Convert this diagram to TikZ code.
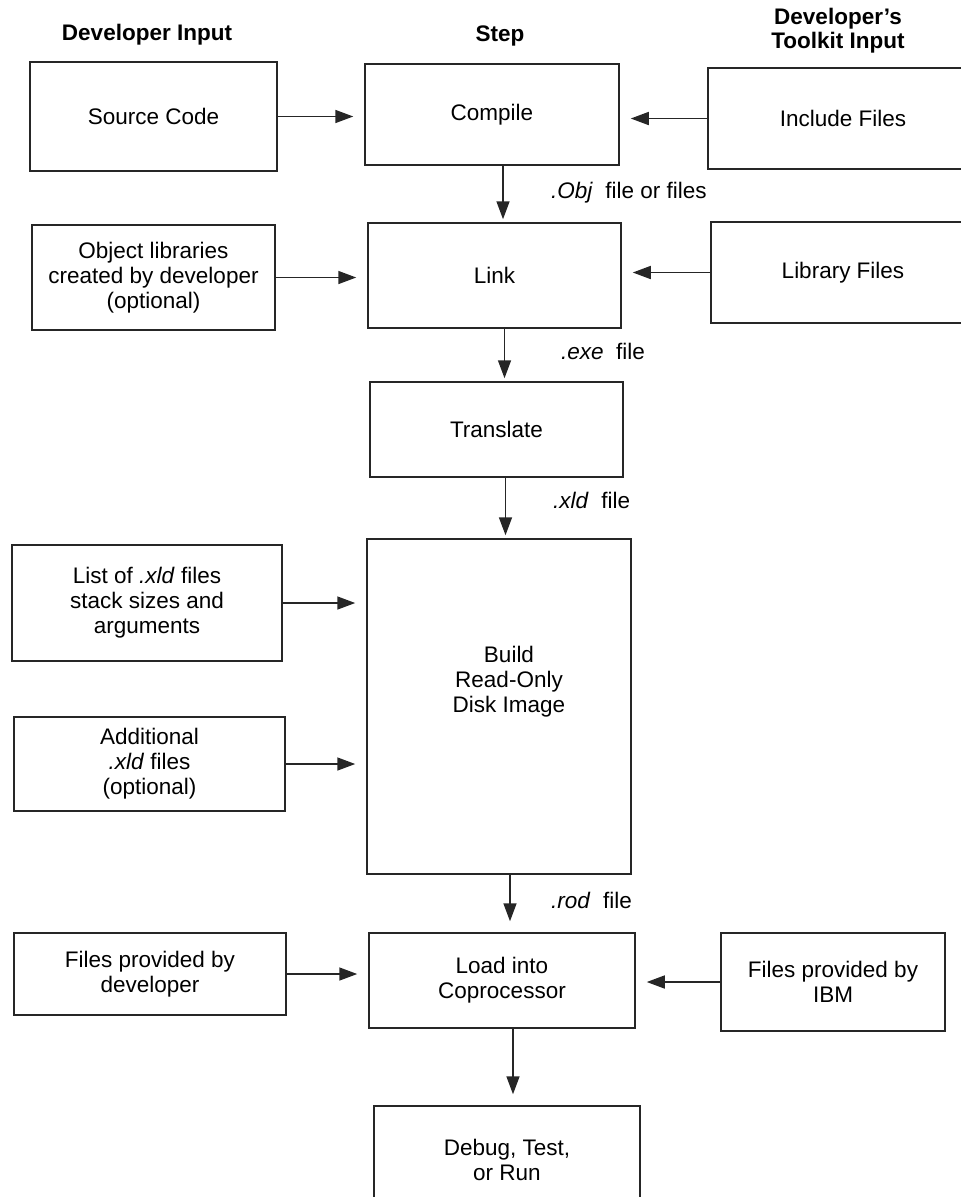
\documentclass[tikz,border=0pt]{standalone}
\usepackage{fontspec}
\setmainfont{Liberation Sans}
\usetikzlibrary{arrows.meta}

\tikzset{
	stepbox/.style={draw=black!85, line width=1.5pt, align=center},
	flow/.style={draw=black!85, line width=1.6pt, -{Triangle[length=18pt,width=13pt]}, shorten >=11pt},
	down/.style={flow, shorten >=3pt},
	head/.style={font=\fontsize{22.5}{24}\selectfont\bfseries, align=center},
	filelabel/.style={anchor=west, inner sep=0pt}
}

\begin{document}
\begin{tikzpicture}[x=1pt, y=-1pt, font=\fontsize{22.5}{25}\selectfont]
	\useasboundingbox (0,0) rectangle (961,1197);

	\node[head] (hdev) at (147,35) {Developer Input};
	\node[head] (hstep) at (500,36) {Step};
	\node[head] (htool) at (838,31) {Developer’s\\Toolkit Input};

	\node[stepbox, minimum width=247pt, minimum height=109pt] (src) at (153.5,116.5) {Source Code};
	\node[stepbox, minimum width=254pt, minimum height=101pt] (compile) at (492,114.5) {Compile};
	\node[stepbox, minimum width=270pt, minimum height=101pt] (incl) at (843,118.5) {Include Files};

	\node[stepbox, minimum width=243pt, minimum height=105pt] (objlib) at (153.5,277.5) {Object libraries\\created by developer\\(optional)};
	\node[stepbox, minimum width=253pt, minimum height=105pt] (link) at (494.5,275.5) {Link};
	\node[stepbox, minimum width=264pt, minimum height=101pt] (libf) at (843,272.5) {Library Files};

	\node[stepbox, minimum width=253pt, minimum height=95pt] (trans) at (496.5,429.5) {Translate};

	\node[stepbox, minimum width=264pt, minimum height=335pt] (build) at (499,706.5) {};
	\node[align=center] (buildtext) at (509,682) {Build\\Read-Only\\Disk Image};
	\node[stepbox, minimum width=270pt, minimum height=116pt] (xldlist) at (147,603) {List of \textit{.xld} files\\stack sizes and\\arguments};
	\node[stepbox, minimum width=271pt, minimum height=94pt] (addxld) at (149.5,764) {Additional\\\textit{.xld} files\\(optional)};

	\node[stepbox, minimum width=272pt, minimum height=82pt] (devfiles) at (150,974) {Files provided by\\developer};
	\node[stepbox, minimum width=266pt, minimum height=95pt] (load) at (502,980.5) {Load into\\Coprocessor};
	\node[stepbox, minimum width=224pt, minimum height=98pt] (ibm) at (833,982) {Files provided by\\IBM};

	\node[stepbox, minimum width=266pt, minimum height=108pt] (debug) at (507,1160) {Debug, Test,\\or Run};

	% file labels
	\node[filelabel] (objlbl) at (551,193) {\textit{.Obj}\ \ file or files};
	\node[filelabel] (exelbl) at (561,351) {\textit{.exe}\ \ file};
	\node[filelabel] (xldlbl) at (553,500) {\textit{.xld}\ \ file};
	\node[filelabel] (rodlbl) at (551,900) {\textit{.rod}\ \ file};

	% inputs
	\draw[flow] (src.east) -- (src.east -| compile.west);
	\draw[flow] (incl.west) -- (incl.west -| compile.east);
	\draw[flow] (objlib.east) -- (objlib.east -| link.west);
	\draw[flow] (libf.west) -- (libf.west -| link.east);
	\draw[flow] (xldlist.east) -- (xldlist.east -| build.west);
	\draw[flow] (addxld.east) -- (addxld.east -| build.west);
	\draw[flow] (devfiles.east) -- (devfiles.east -| load.west);
	\draw[flow] (ibm.west) -- (ibm.west -| load.east);

	% steps
	\draw[down] ([xshift=11pt]compile.south) -- ([xshift=11pt]compile.south |- link.north);
	\draw[down] ([xshift=10pt]link.south) -- ([xshift=10pt]link.south |- trans.north);
	\draw[down] ([xshift=9pt]trans.south) -- ([xshift=9pt]trans.south |- build.north);
	\draw[flow] ([xshift=11pt]build.south) -- ([xshift=11pt]build.south |- load.north);
	\draw[flow] ([xshift=11pt]load.south) -- ([xshift=11pt]load.south |- debug.north);
\end{tikzpicture}
\end{document}
